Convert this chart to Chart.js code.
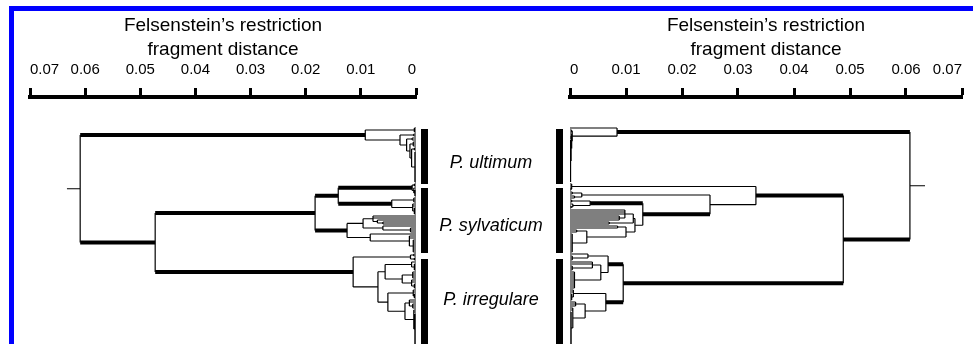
<!DOCTYPE html>
<html>
<head>
<meta charset="utf-8">
<script src="https://cdn.jsdelivr.net/npm/chart.js@4.4.1/dist/chart.umd.min.js"></script>
<style>
  html, body { margin: 0; padding: 0; background: #fff; overflow: hidden; }
  body { width: 973px; height: 344px; position: relative; }
  #frame { position: absolute; left: 9px; top: 6px; width: 1000px; height: 400px;
           border-top: 5px solid #0000ff; border-left: 5px solid #0000ff; }
  .box { position: absolute; top: 0; height: 344px; }
  #leftBox { left: 0; width: 560px; }
  #rightBox { left: 500px; width: 490px; }
</style>
</head>
<body>
<div id="frame"></div>
<div class="box" id="leftBox"><canvas id="leftChart"></canvas></div>
<div class="box" id="rightBox"><canvas id="rightChart"></canvas></div>
<script>
const family = '"Liberation Sans", Arial, sans-serif';

const axisTitle = ['Felsenstein\u2019s restriction', 'fragment distance'];
const tickValues = [0, 0.01, 0.02, 0.03, 0.04, 0.05, 0.06, 0.07];
const tickLabels = ['0', '0.01', '0.02', '0.03', '0.04', '0.05', '0.06', '0.07'];

const cladeNames = ['P. ultimum', 'P. sylvaticum', 'P. irregulare'];
const cladeBars = [[0.5, 28], [30, 62.5], [65.5, 112]];   // leaf rows under each black bar
const cladeLabelRows = [17.5, 49, 86];
const rowRange = [-15.5, 108];

// node = [height, thick branch (1/0), ...children]; a plain number n = n leaves on that node
const treeLeft =
[0.0609, 0,
  [0.0092, 1,
    [0.0003, 0, 3],
    [0.0029, 0,
      [0.0004, 0, 2],
      [0.0017, 0,
        [0.0007, 0, 2],
        [0.0011, 0,
          [0.0005, 0, 3],
          [0.0008, 0, [0.0003, 0, 2], [0.0002, 0, 16]]]]]],
  [0.0473, 1,
    [0.0183, 1,
      [0.0141, 1,
        [0.0007, 1, [0.0003, 0, 2], [0.0004, 0, 1, [0.0002, 0, 4]]],
        [0.0044, 1, [0.0004, 0, 3], [0.0006, 0, 2, [0.0003, 0, 4]]]],
      [0.0125, 1,
        [0.0096, 0, [0.0078, 0, 2, [0.0070, 0, 1, [0.0060, 0, 2]]],
                    [0.0060, 0, 1, [0.0010, 0, 3]]],
        [0.0083, 0, 1, [0.0012, 0, 2, [0.0005, 0, 7]]]]],
    [0.0114, 1,
      [0.0010, 0, [0.0004, 0, 2], [0.0003, 0, 2]],
      [0.0069, 0,
        [0.0056, 0, [0.0008, 0, 1, [0.0003, 0, 4]],
                    [0.0025, 0, [0.0006, 0, 4], [0.0008, 0, 2, [0.0003, 0, 3]]]],
        [0.0051, 0, [0.0005, 0, 2, [0.0003, 0, 3]],
                    [0.0020, 0, [0.0012, 0, 2, [0.0006, 0, 3]], [0.0004, 0, 2, [0.0002, 0, 16]]]]]]]];

const treeRight =
[0.0607, 0,
  [0.0084, 1, 1,
    [0.0004, 0, [0.0003, 0, 2], [0.0003, 0, 1, [0.0002, 0, 2, [0.0001, 0, 22]]]]],
  [0.0488, 1,
    [0.0332, 1,
      [0.0003, 0, 2, [0.0002, 0, 2]],
      [0.0250, 0,
        [0.0021, 0, [0.0004, 0, 2], [0.0008, 0, 2]],
        [0.0130, 1,
          [0.0036, 1, [0.0003, 0, 2], [0.0005, 0, 1, [0.0002, 0, 2]]],
          [0.0116, 0,
            [0.0113, 0, [0.0098, 0, 3, [0.0088, 0, 3]], [0.0070, 0, 2]],
            [0.0100, 0, [0.0085, 0, 2], [0.0030, 0, [0.0012, 0, 2], [0.0004, 0, 10]]]]]]],
    [0.0095, 1,
      [0.0068, 1, [0.0032, 0, 1, [0.0004, 0, 3]],
                  [0.0055, 0, [0.0040, 0, 2, [0.0004, 0, 3]], [0.0008, 0, 9]]],
      [0.0064, 1, [0.0006, 0, 2, [0.0003, 0, 4]],
                  [0.0027, 0, [0.0010, 0, 3], [0.0005, 0, 2, [0.0002, 0, 17]]]]]]];

const rootStub = [0.0024, 0.0027];

// turn a tree into line segments (x = distance, y = leaf row)
function buildSegments(tree, stub) {
  const thin = [], thick = [];
  let row = 0;
  const seg = (arr, x1, y1, x2, y2) => { arr.push({x: x1, y: y1}, {x: x2, y: y2}, {x: x2, y: null}); };
  function walk(node) {
    const h = node[0];
    const ys = [];
    node.slice(2).forEach(c => {
      if (typeof c === 'number') {
        for (let i = 0; i < c; i++) { ys.push(row); seg(thin, h, row, 0, row); row++; }
      } else {
        const y = walk(c);
        ys.push(y);
        seg(c[1] ? thick : thin, h, y, c[0], y);
      }
    });
    seg(thin, h, ys[0], h, ys[ys.length - 1]);
    return (ys[0] + ys[ys.length - 1]) / 2;
  }
  const y = walk(tree);
  seg(thin, tree[0] + stub, y, tree[0], y);
  return {thin, thick};
}

const cladePlugin = {
  id: 'clades',
  afterDatasetsDraw(chart, args, opts) {
    const {ctx, chartArea} = chart;
    const y = chart.scales.y;
    ctx.save();
    ctx.fillStyle = '#000';
    cladeBars.forEach(([a, b]) => {
      const top = y.getPixelForValue(a), bottom = y.getPixelForValue(b);
      const x = opts.side === 'left' ? chartArea.right + 5 : chartArea.left - 14;
      ctx.fillRect(x, top, 7, bottom - top);
    });
    if (opts.side === 'left') {
      ctx.font = 'italic 18px ' + family;
      ctx.textAlign = 'center';
      ctx.textBaseline = 'middle';
      cladeNames.forEach((n, i) => ctx.fillText(n, chartArea.right + 75, y.getPixelForValue(cladeLabelRows[i])));
    }
    ctx.restore();
  }
};

function makeChart(id, tree, stub, side, pad) {
  const s = buildSegments(tree, stub);
  const line = {borderColor: '#000', pointRadius: 0, spanGaps: false, borderCapStyle: 'butt', tension: 0};
  return new Chart(document.getElementById(id), {
    type: 'line',
    data: {
      datasets: [
        Object.assign({data: s.thin, borderWidth: 1.2}, line),
        Object.assign({data: s.thick, borderWidth: 4}, line)
      ]
    },
    options: {
      animation: false,
      responsive: true,
      maintainAspectRatio: false,
      layout: {padding: pad},
      plugins: {legend: {display: false}, tooltip: {enabled: false}, clades: {side: side}},
      scales: {
        x: {
          type: 'linear', position: 'top', reverse: side === 'left', min: 0, max: 0.07,
          afterBuildTicks: sc => { sc.ticks = tickValues.map(v => ({value: v})); },
          afterFit: sc => { sc.height = 89; },
          ticks: {
            callback: (v, i) => tickLabels[i], autoSkip: false, maxRotation: 0, align: 'inner',
            padding: 9, color: '#000', font: {family: family, size: 15}
          },
          grid: {drawOnChartArea: false, tickLength: 9, tickWidth: 3, tickColor: '#000'},
          border: {display: true, width: 4, color: '#000'},
          title: {
            display: true, text: axisTitle, color: '#000',
            font: {family: family, size: 19, lineHeight: 1.3}, padding: {top: 5, bottom: 0}
          }
        },
        y: {type: 'linear', display: false, reverse: true, min: rowRange[0], max: rowRange[1]}
      }
    },
    plugins: [cladePlugin]
  });
}

makeChart('leftChart', treeLeft, rootStub[0], 'left', {top: 8, left: 30, right: 144, bottom: 0});
makeChart('rightChart', treeRight, rootStub[1], 'right', {top: 8, left: 70, right: 28, bottom: 0});
</script>
</body>
</html>
